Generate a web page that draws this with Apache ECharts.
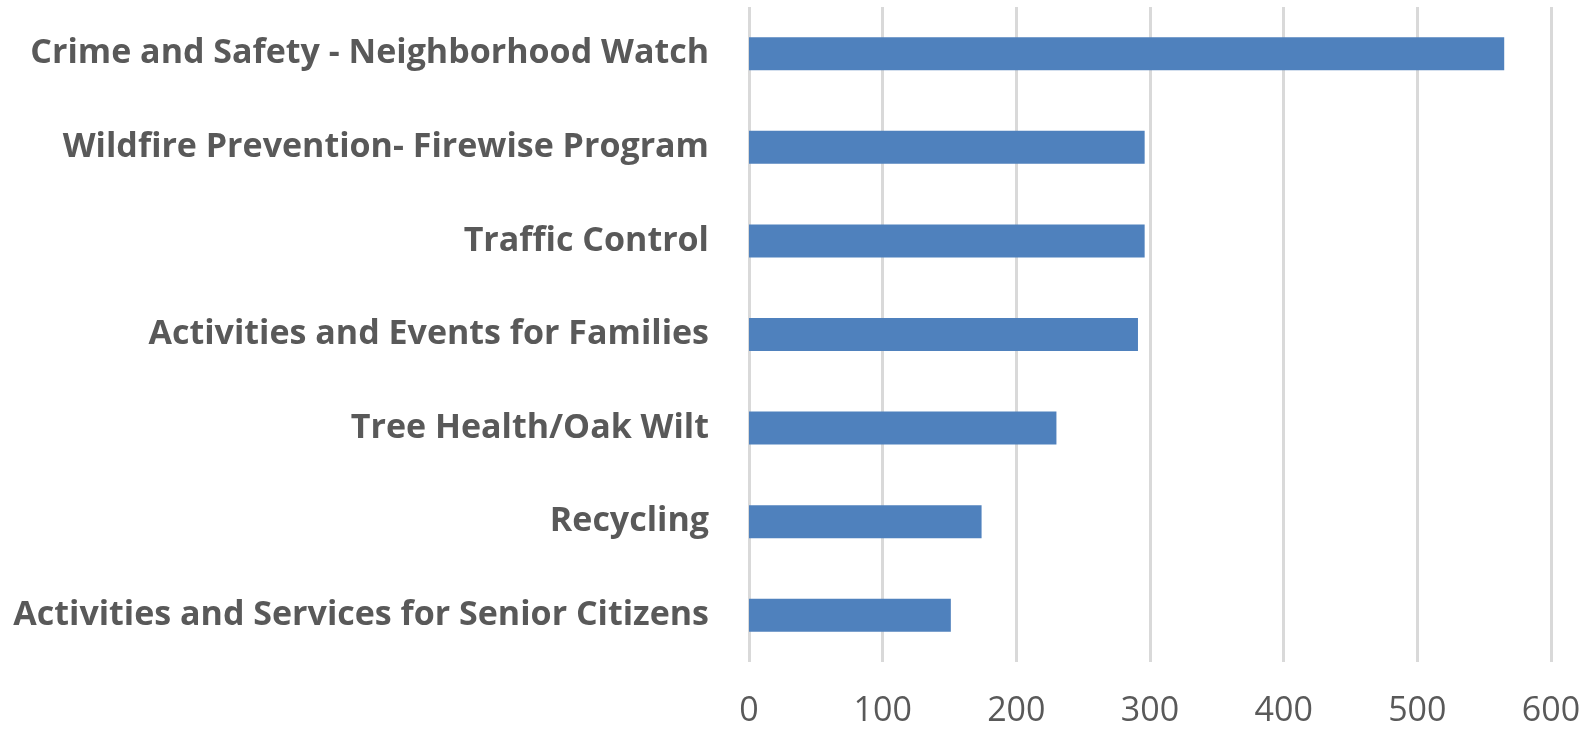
<!DOCTYPE html>
<html>
<head>
<meta charset="utf-8">
<script src="https://cdn.jsdelivr.net/npm/echarts@6/dist/echarts.min.js"></script>
<style>html,body{margin:0;padding:0;background:#fff;}#c{width:1591px;height:732px;}</style>
</head>
<body>
<div id="c"></div>
<script>
const categories = [
  "Crime and Safety - Neighborhood Watch",
  "Wildfire Prevention- Firewise Program",
  "Traffic Control",
  "Activities and Events for Families",
  "Tree Health/Oak Wilt",
  "Recycling",
  "Activities and Services for Senior Citizens"
];
const values = [565, 296, 296, 291, 230, 174, 151];
const xMin = 0, xMax = 600, xInterval = 100;

const chart = echarts.init(document.getElementById('c'), null, {renderer: 'canvas'});
chart.setOption({
  animation: false,
  backgroundColor: '#ffffff',
  grid: {left: 749, right: 40, top: 7, bottom: 70, containLabel: false},
  xAxis: {
    type: 'value', min: xMin, max: xMax, interval: xInterval,
    axisLine: {show: false}, axisTick: {show: false},
    splitLine: {show: true, lineStyle: {color: '#d9d9d9', width: 3}},
    axisLabel: {color: '#595959', fontFamily: 'Open Sans', fontSize: 34, margin: 32}
  },
  yAxis: {
    type: 'category', data: categories, inverse: true,
    axisLine: {show: false}, axisTick: {show: false},
    axisLabel: {color: '#595959', fontFamily: 'Open Sans', fontWeight: 'bold', fontSize: 34, margin: 40}
  },
  series: [{
    type: 'bar', data: values, barWidth: 33,
    itemStyle: {color: '#4f81bd'}
  }]
});
</script>
</body>
</html>
